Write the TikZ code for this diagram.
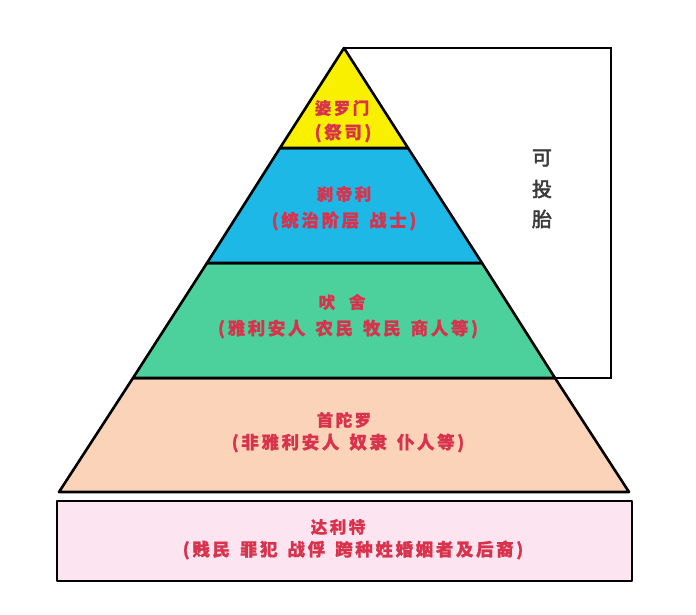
\documentclass[tikz,border=0pt]{standalone}
\usepackage{fontspec}
\setmainfont{Noto Sans CJK SC}[FakeBold=0.9,LetterSpace=15]
\newfontfamily\heavycjk{Noto Sans CJK SC}[FakeBold=2.5]
\definecolor{tyellow}{HTML}{F9F000}
\definecolor{tblue}{HTML}{1DB8E6}
\definecolor{tgreen}{HTML}{4DD19C}
\definecolor{tpeach}{HTML}{FAD3B8}
\definecolor{tpink}{HTML}{FCE5F1}
\definecolor{tred}{HTML}{D8324C}
\definecolor{tgray}{HTML}{3A3A3A}
\newcommand{\gp}{\hspace{10pt}}
\tikzset{
  tier/.style={draw=black, line width=2.6pt, line join=round},
  lbl/.style={text=tred, font=\fontsize{17.5}{20}\selectfont\bfseries, inner sep=0pt},
  ttl/.style={text=tred, font=\fontsize{16.5}{19}\selectfont\bfseries, inner sep=0pt},
  sidelbl/.style={text=tgray, font=\fontsize{20}{22}\selectfont\heavycjk, inner sep=0pt}
}
\begin{document}
\begin{tikzpicture}[x=1pt,y=-1pt]
\useasboundingbox (0,0) rectangle (696,615);
\fill[white] (0,0) rectangle (696,615);
% coordinates
\coordinate (apex) at (344,48);
\coordinate (l1) at (280,148); \coordinate (r1) at (408,148);
\coordinate (l2) at (207,263); \coordinate (r2) at (482,263);
\coordinate (l3) at (133,378); \coordinate (r3) at (555,378);
\coordinate (l4) at (59,492);  \coordinate (r4) at (629,492);
% side frame
\draw[line width=2pt] (apex) -- (611,48) -- (611,378) -- (r3);
% tiers
\draw[tier, fill=tpeach] (l3) -- (r3) -- (r4) -- (l4) -- cycle;
\draw[tier, fill=tgreen] (l2) -- (r2) -- (r3) -- (l3) -- cycle;
\draw[tier, fill=tblue] (l1) -- (r1) -- (r2) -- (l2) -- cycle;
\draw[tier, fill=tyellow] (apex) -- (r1) -- (l1) -- cycle;
% bottom box
\draw[tier, fill=tpink] (57,501) rectangle (632,581);
% labels
\node[ttl] (a1) at (342,108) {婆罗门};
\node[lbl] (a2) at (343,133) {(祭司)};
\node[ttl] (b1) at (344,194) {刹帝利};
\node[lbl] (b2) at (344,221) {(统治阶层\gp 战士)};
\node[ttl] (c1) at (342,302) {吠\hspace{14pt}舍};
\node[lbl] (c2) at (348,329) {(雅利安人\gp 农民\gp 牧民\gp 商人等)};
\node[ttl] (d1) at (344,420) {首陀罗};
\node[lbl] (d2) at (348,443) {(非雅利安人\gp 奴隶\gp 仆人等)};
\node[ttl] (e1) at (338,527) {达利特};
\node[lbl] (e2) at (353,550) {(贱民\gp 罪犯\gp 战俘\gp 跨种姓婚姻者及后裔)};
\node[sidelbl] (s1) at (542,158) {可};
\node[sidelbl] (s2) at (542,189) {投};
\node[sidelbl] (s3) at (542,219) {胎};
\end{tikzpicture}
\end{document}
